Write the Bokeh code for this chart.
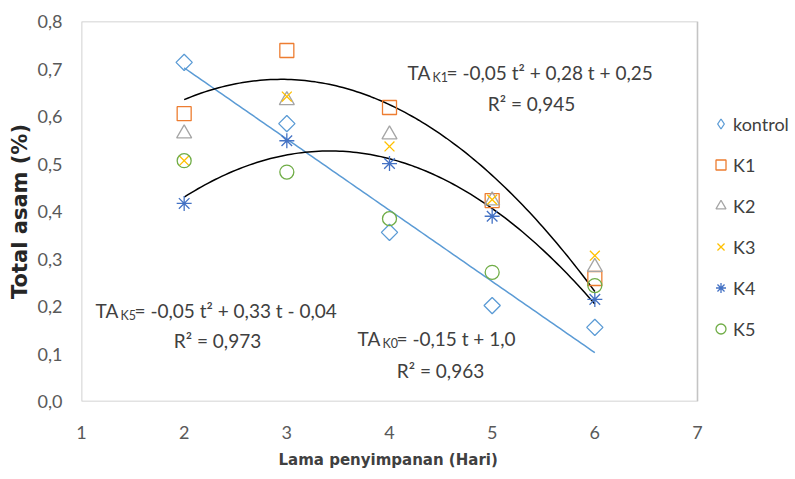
import numpy as np
from bokeh.plotting import figure
from bokeh.models import (Range1d, FixedTicker, CustomJSTickFormatter, Label,
                          Legend, LegendItem, BoxAnnotation, Title)
from bokeh.embed import file_html
from bokeh.resources import INLINE

# ---- data ----
days = [2, 3, 4, 5, 6]
kontrol = [0.714, 0.585, 0.356, 0.202, 0.156]
k1 = [0.606, 0.739, 0.619, 0.423, 0.259]
k2 = [0.564, 0.634, 0.562, 0.423, 0.283]
k3 = [0.507, 0.642, 0.537, 0.425, 0.307]
k4 = [0.417, 0.549, 0.501, 0.390, 0.215]
k5 = [0.507, 0.483, 0.385, 0.272, 0.244]
series_names = ["kontrol", "K1", "K2", "K3", "K4", "K5"]
x_ticks = [1, 2, 3, 4, 5, 6, 7]
y_ticks = [0.0, 0.1, 0.2, 0.3, 0.4, 0.5, 0.6, 0.7, 0.8]

eq_k1 = "= -0,05 t² + 0,28 t + 0,25"
r2_k1 = "R² = 0,945"
eq_k5 = "= -0,05 t² + 0,33 t - 0,04"
r2_k5 = "R² = 0,973"
eq_k0 = "= -0,15 t + 1,0"
r2_k0 = "R² = 0,963"

FONT = "Lato"
TXT = "#404040"

# plot box is 616 px wide for days 1..7; the frame continues 98 px further
# to the right so the legend can sit beside the box
PX_PER_DAY = 616 / 6
x_end = x_ticks[-1] + 98 / PX_PER_DAY

p = figure(width=795, height=479, output_backend="svg", toolbar_location=None,
           x_range=Range1d(x_ticks[0], x_end), y_range=Range1d(y_ticks[0], y_ticks[-1]),
           min_border_left=81, min_border_right=0, min_border_top=21,
           min_border_bottom=78)
p.background_fill_color = "white"
p.border_fill_color = "white"
p.outline_line_color = None
p.grid.visible = False

p.add_layout(BoxAnnotation(left=x_ticks[0], right=x_ticks[-1], bottom=y_ticks[0],
                           top=y_ticks[-1], fill_color=None, fill_alpha=0,
                           line_color="#3a3a3a", line_width=1.6))

for ax in (p.xaxis[0], p.yaxis[0]):
    ax.axis_line_color = None
    ax.major_tick_line_color = None
    ax.minor_tick_line_color = None
    ax.major_tick_out = 0
    ax.major_tick_in = 0
    ax.major_label_text_font = FONT
    ax.major_label_text_font_size = "18px"
    ax.major_label_text_color = "#595959"

p.xaxis.ticker = FixedTicker(ticks=x_ticks)
p.yaxis.ticker = FixedTicker(ticks=y_ticks)
p.yaxis.formatter = CustomJSTickFormatter(code="return tick.toFixed(1).replace('.', ',');")
p.xaxis.major_label_standoff = 24
p.yaxis.major_label_standoff = 19

p.yaxis.axis_label = "Total asam (%)"
p.yaxis.axis_label_text_font = "DejaVu Sans"
p.yaxis.axis_label_text_font_style = "bold"
p.yaxis.axis_label_text_font_size = "21px"
p.yaxis.axis_label_text_color = "#262626"
p.yaxis.axis_label_standoff = 3

# x-axis title, centred under the plot box (not under the whole frame)
p.add_layout(Title(text="Lama penyimpanan (Hari)", align="left", offset=197,
                   text_font="DejaVu Sans", text_font_style="bold",
                   text_font_size="15px", text_color="#404040", standoff=14), "below")

# ---- trendlines (least-squares fits of the data, like Excel) ----
tt = np.linspace(days[0], days[-1], 120)
c0 = np.polyfit(days, kontrol, 1)
c1 = np.polyfit(days, k1, 2)
c4 = np.polyfit(days, k4, 2)
p.line(tt, np.polyval(c0, tt), line_color="#5B9BD5", line_width=1.5)
p.line(tt, np.polyval(c1, tt), line_color="black", line_width=1.5)
p.line(tt, np.polyval(c4, tt), line_color="black", line_width=1.5)

# ---- markers ----
styles = [
    (kontrol, "square", "#5B9BD5", 11.5, np.pi / 4),
    (k1, "square", "#ED7D31", 14, 0),
    (k2, "triangle", "#A5A5A5", 15, 0),
    (k3, "x", "#FFC000", 14, 0),
    (k4, "asterisk", "#4472C4", 15, 0),
    (k5, "circle", "#70AD47", 14, 0),
]
renderers = []
for vals, mk, col, sz, ang in styles:
    r = p.scatter(days, vals, marker=mk, size=sz, angle=ang, fill_color=None,
                  line_color=col, line_width=1.3)
    renderers.append(r)

# legend swatch for kontrol (legend glyphs ignore rotation, so use a diamond)
kontrol_key = p.scatter([np.nan], [np.nan], marker="diamond", size=11, fill_color=None,
                        line_color="#5B9BD5", line_width=1.3)
legend_renderers = [kontrol_key] + renderers[1:]

legend = Legend(items=[LegendItem(label=n, renderers=[r]) for n, r in zip(series_names, legend_renderers)],
                location=(627, 59), orientation="vertical",
                glyph_width=25, glyph_height=27, label_height=27, spacing=14,
                padding=0, margin=0, label_standoff=0,
                border_line_color=None, background_fill_alpha=0,
                label_text_font=FONT, label_text_font_size="18px",
                label_text_color=TXT, label_text_baseline="middle")
p.add_layout(legend)

# ---- equation labels ----
def sx(px):
    return 1 + (px - 81) / PX_PER_DAY

def sy(py):
    return (401 - py) / 475

def equation(left, mid_y, sub, rest, r2, r2_center, r2_y):
    p.add_layout(Label(x=sx(left), y=sy(mid_y), text="TA", text_font=FONT,
                       text_font_size="19px", text_color=TXT,
                       text_baseline="middle", text_align="left"))
    p.add_layout(Label(x=sx(left + 25), y=sy(mid_y + 5), text=sub, text_font=FONT,
                       text_font_size="12.5px", text_color=TXT,
                       text_baseline="middle", text_align="left"))
    p.add_layout(Label(x=sx(left + 39), y=sy(mid_y), text=rest, text_font=FONT,
                       text_font_size="19px", text_color=TXT,
                       text_baseline="middle", text_align="left"))
    p.add_layout(Label(x=sx(r2_center), y=sy(r2_y), text=r2, text_font=FONT,
                       text_font_size="19px", text_color=TXT,
                       text_baseline="middle", text_align="center"))

equation(407, 72, "K1", eq_k1, r2_k1, 531, 103)
equation(95, 310, "K5", eq_k5, r2_k5, 217, 340)
equation(357, 338, "K0", eq_k0, r2_k0, 440, 370)

open("out.html", "w").write(file_html(p, INLINE))
